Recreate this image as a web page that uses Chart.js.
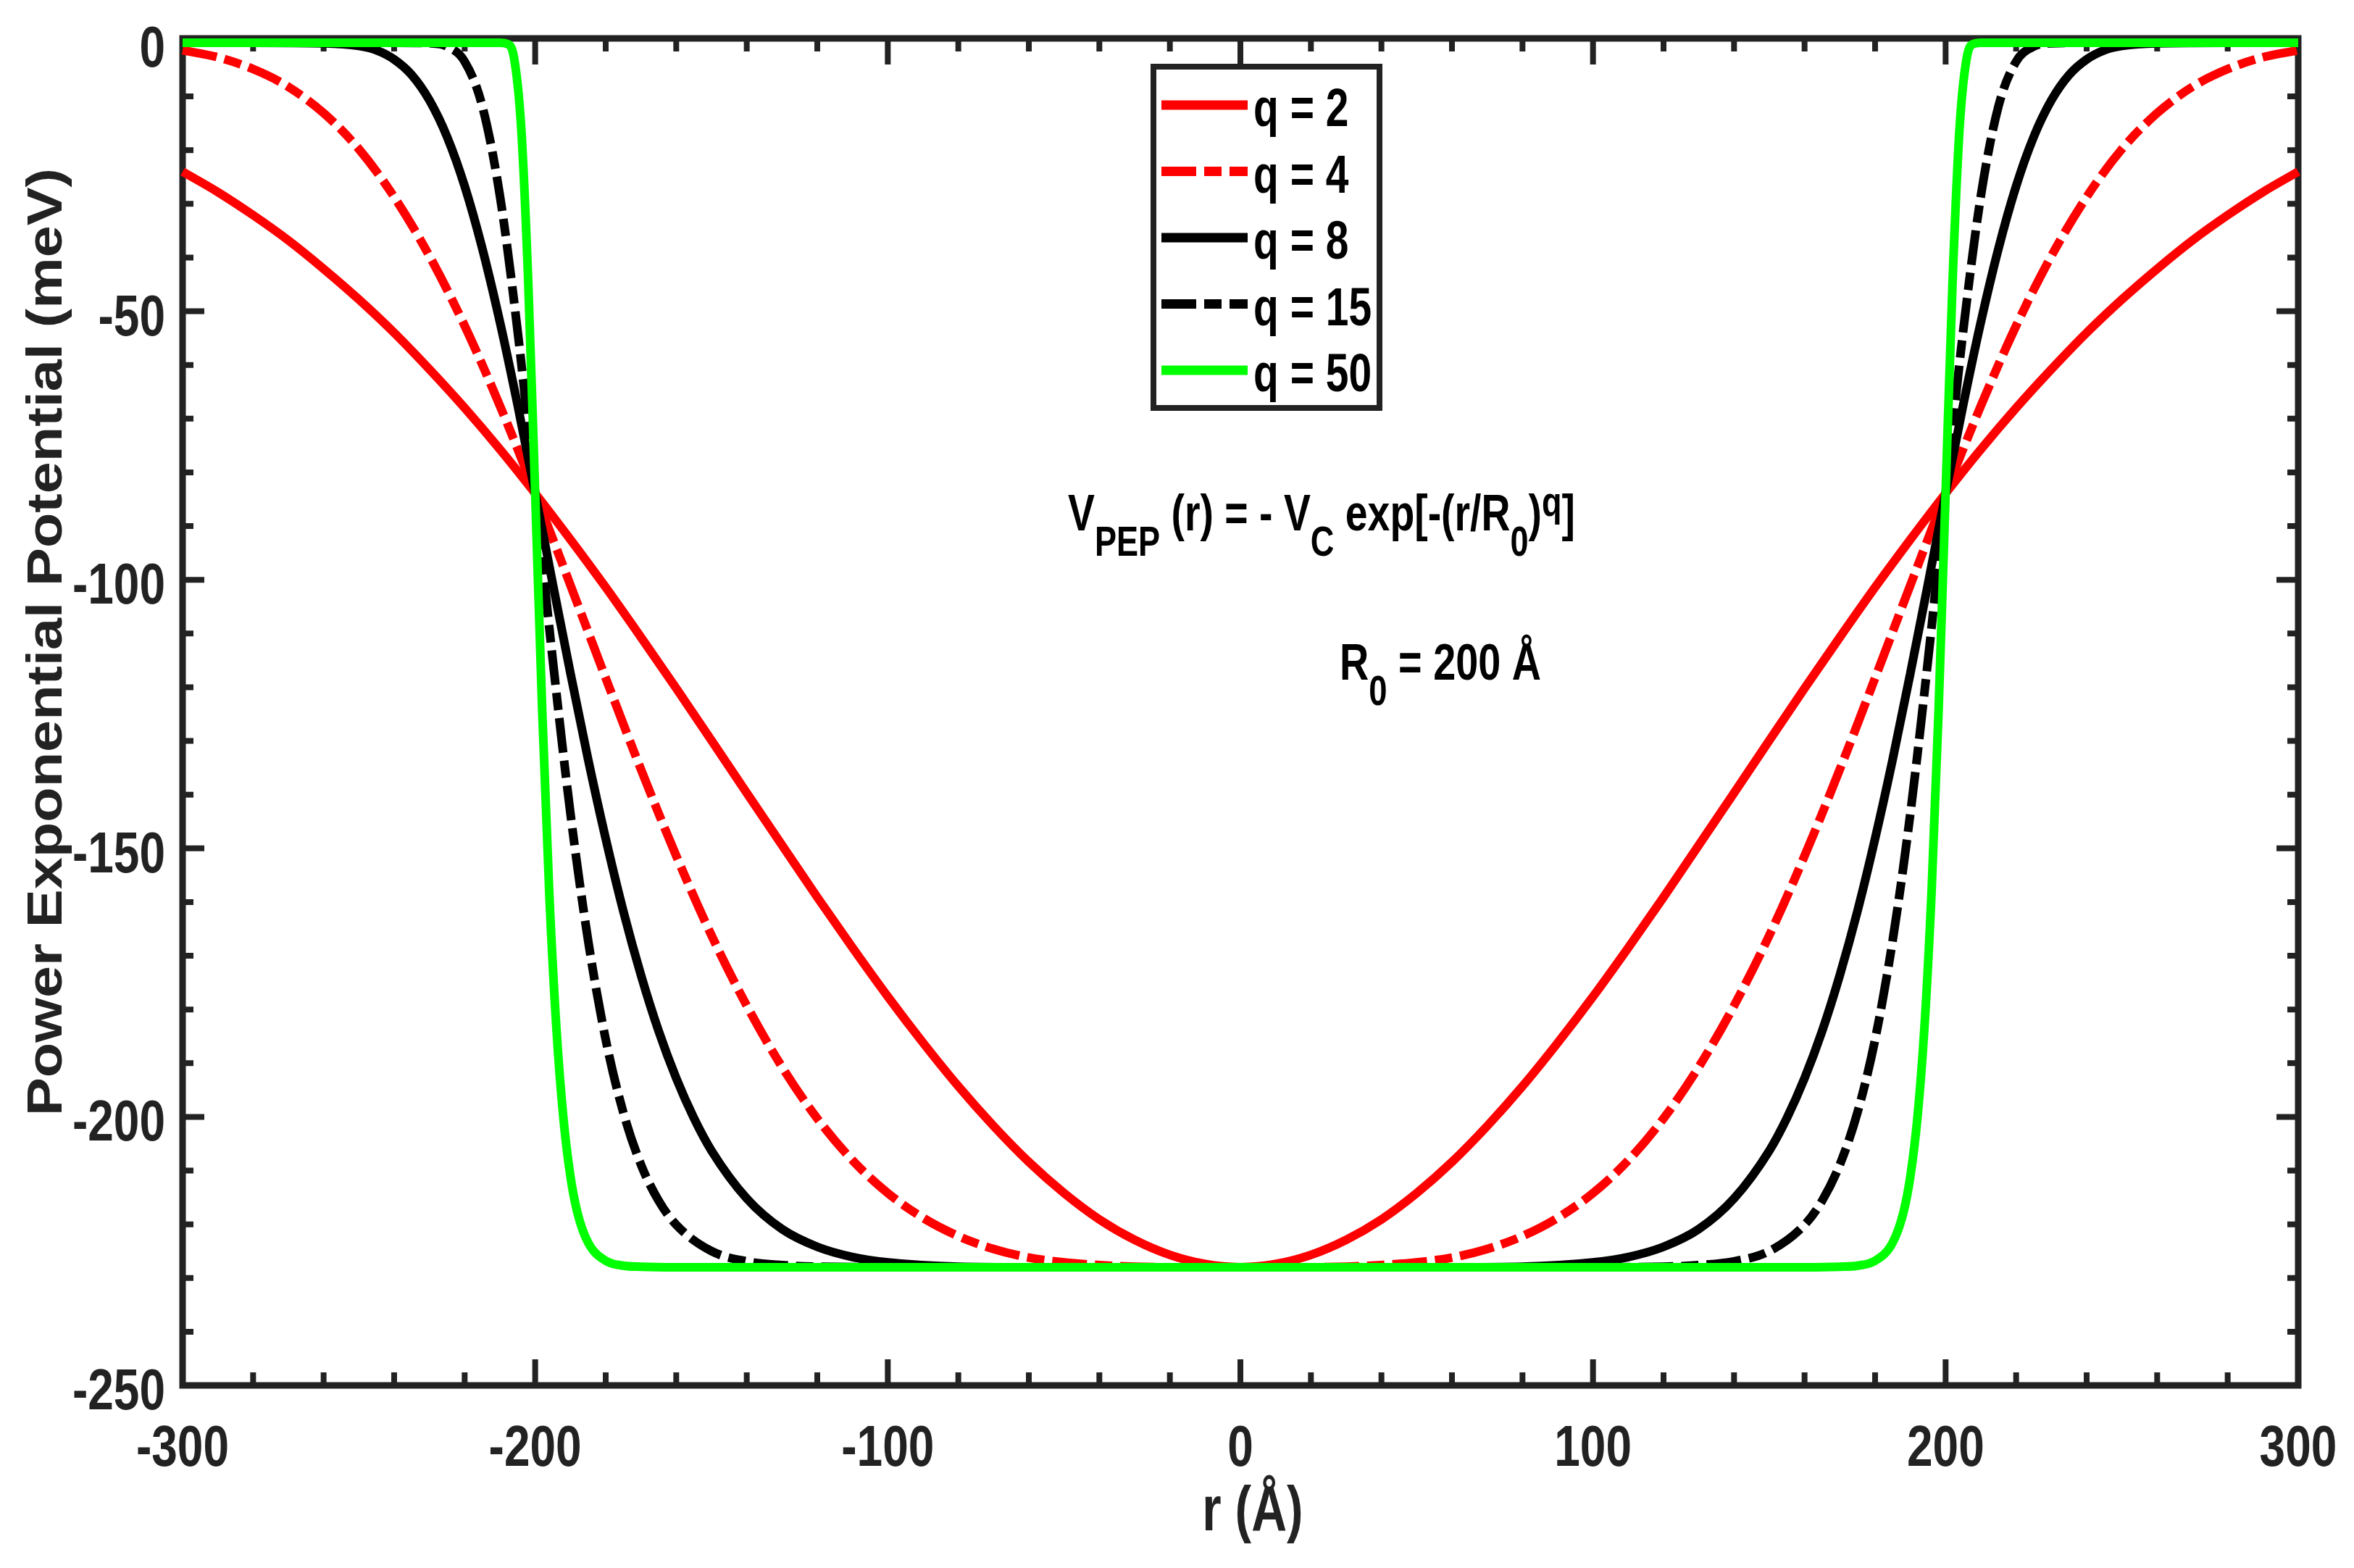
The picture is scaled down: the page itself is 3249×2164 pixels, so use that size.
<!DOCTYPE html>
<html>
<head>
  <meta charset="utf-8">
  <title>Power Exponential Potential</title>
  <script src="https://cdn.jsdelivr.net/npm/chart.js@4.4.1/dist/chart.umd.min.js"></script>
  <style>
    html, body { margin: 0; padding: 0; background: #fff; }
    #wrap { width: 3249px; height: 2164px; }
  </style>
</head>
<body>
<div id="wrap"><canvas id="pep" width="3249" height="2164"></canvas></div>
<script>
// tick labels
const xTicks = [-300, -200, -100, 0, 100, 200, 300];
const yTicks = [-250, -200, -150, -100, -50, 0];

// q = 2 and q = 4 read every 10 A
const rGrid = [-300,-290,-280,-270,-260,-250,-240,-230,-220,-210,-200,-190,-180,-170,-160,-150,-140,-130,-120,-110,-100,-90,-80,-70,-60,-50,-40,-30,-20,-10,
  0,10,20,30,40,50,60,70,80,90,100,110,120,130,140,150,160,170,180,190,200,210,220,230,240,250,260,270,280,290,300];
const vQ2 = [-24.0,-27.8,-32.1,-36.8,-42.1,-47.8,-54.0,-60.8,-68.0,-75.7,-83.9,-92.5,-101.4,-110.7,-120.2,-129.9,-139.7,-149.4,-159.1,-168.5,-177.6,-186.2,-194.3,-201.7,-208.4,-214.2,-219.1,-222.9,-225.7,-227.4,
  -228.0,-227.4,-225.7,-222.9,-219.1,-214.2,-208.4,-201.7,-194.3,-186.2,-177.6,-168.5,-159.1,-149.4,-139.7,-129.9,-120.2,-110.7,-101.4,-92.5,-83.9,-75.7,-68.0,-60.8,-54.0,-47.8,-42.1,-36.8,-32.1,-27.8,-24.0];
const vQ4 = [-1.4,-2.7,-4.9,-8.2,-13.1,-19.8,-28.7,-39.7,-52.7,-67.6,-83.9,-101.0,-118.3,-135.3,-151.4,-166.2,-179.3,-190.7,-200.3,-208.1,-214.2,-218.8,-222.2,-224.6,-226.2,-227.1,-227.6,-227.9,-228.0,-228.0,
  -228.0,-228.0,-228.0,-227.9,-227.6,-227.1,-226.2,-224.6,-222.2,-218.8,-214.2,-208.1,-200.3,-190.7,-179.3,-166.2,-151.4,-135.3,-118.3,-101.0,-83.9,-67.6,-52.7,-39.7,-28.7,-19.8,-13.1,-8.2,-4.9,-2.7,-1.4];

// q = 8
const rQ8 = [-300,-280,-260,-250,-245,-240,-235,-230,-225,-220,-215,-210,-205,-200,-195,-190,-185,-180,-175,-170,-165,-160,-155,-150,-140,-130,-120,-110,-100,-80,-60,-40,-20,
  0,20,40,60,80,100,110,120,130,140,150,155,160,165,170,175,180,185,190,195,200,205,210,215,220,225,230,235,240,245,250,260,280,300];
const vQ8 = [0,0,-0.1,-0.6,-1.4,-3.1,-6.0,-10.7,-17.5,-26.7,-38.3,-52.0,-67.4,-83.9,-100.8,-117.4,-133.4,-148.2,-161.7,-173.6,-184.0,-192.8,-200.2,-206.3,-215.2,-220.9,-224.2,-226.1,-227.1,-227.9,-228.0,-228.0,-228.0,
  -228.0,-228.0,-228.0,-228.0,-227.9,-227.1,-226.1,-224.2,-220.9,-215.2,-206.3,-200.2,-192.8,-184.0,-173.6,-161.7,-148.2,-133.4,-117.4,-100.8,-83.9,-67.4,-52.0,-38.3,-26.7,-17.5,-10.7,-6.0,-3.1,-1.4,-0.6,-0.1,0,0];

// q = 15
const rQ15 = [-300,-270,-240,-230,-225,-220,-215,-210,-205,-200,-195,-190,-185,-180,-175,-170,-165,-160,-150,-140,-130,-120,-100,-50,
  0,50,100,120,130,140,150,160,165,170,175,180,185,190,195,200,205,210,215,220,225,230,240,270,300];
const vQ15 = [0,0,0,-0.1,-0.7,-3.5,-11.8,-28.5,-53.6,-83.9,-115.0,-143.5,-167.1,-185.6,-199.2,-208.9,-215.6,-220.1,-225.0,-226.9,-227.6,-227.9,-228.0,-228.0,
  -228.0,-228.0,-228.0,-227.9,-227.6,-226.9,-225.0,-220.1,-215.6,-208.9,-199.2,-185.6,-167.1,-143.5,-115.0,-83.9,-53.6,-28.5,-11.8,-3.5,-0.7,-0.1,0,0,0];

// q = 50
const rQ50 = [-300,-250,-210,-208,-206,-204,-202,-200,-198,-196,-194,-192,-190,-188,-185,-180,-175,-170,-160,-100,
  0,100,160,170,175,180,185,188,190,192,194,196,198,200,202,204,206,208,210,250,300];
const vQ50 = [0,0,0,-0.2,-2.8,-15.5,-44.0,-83.9,-124.5,-158.4,-183.3,-200.2,-211.1,-217.9,-223.4,-226.8,-227.7,-227.9,-228.0,-228.0,
  -228.0,-228.0,-228.0,-227.9,-227.7,-226.8,-223.4,-217.9,-211.1,-200.2,-183.3,-158.4,-124.5,-83.9,-44.0,-15.5,-2.8,-0.2,0,0,0];

const FONT = '"Liberation Sans", Arial, sans-serif';
const AXIS = '#222222';
const DASHDOT = [48, 11, 24, 11];

function pts(rs, vs) {
  return rs.map((r, i) => ({ x: r, y: vs[i] }));
}

function series(label, rs, vs, color, dash, order) {
  return {
    label: label,
    data: pts(rs, vs),
    borderColor: color,
    backgroundColor: color,
    borderWidth: 12,
    borderDash: dash,
    borderCapStyle: 'butt',
    borderJoinStyle: 'round',
    pointRadius: 0,
    cubicInterpolationMode: 'monotone',
    fill: false,
    clip: 14,
    order: order
  };
}

// the picture's lettering is narrow, so squeeze it sideways
function squeezed(ctx, text, x, y, size, sx, align) {
  ctx.save();
  ctx.font = 'bold ' + size + 'px ' + FONT;
  ctx.translate(x, y);
  ctx.scale(sx, 1);
  ctx.textAlign = align;
  ctx.textBaseline = 'alphabetic';
  ctx.fillText(text, 0, 0);
  ctx.restore();
}

// text with sub/superscripts fitted to the width it has in the picture
function drawRich(ctx, parts, x, y, width) {
  let natural = 0;
  parts.forEach(p => {
    ctx.font = 'bold ' + p.size + 'px ' + FONT;
    natural += ctx.measureText(p.text).width;
  });
  ctx.save();
  ctx.translate(x, y);
  ctx.scale(width / natural, 1);
  ctx.textAlign = 'left';
  ctx.textBaseline = 'alphabetic';
  let cx = 0;
  parts.forEach(p => {
    ctx.font = 'bold ' + p.size + 'px ' + FONT;
    ctx.fillText(p.text, cx, p.dy);
    cx += ctx.measureText(p.text).width;
  });
  ctx.restore();
}

// box round the plot, inward ticks on all four sides, tick labels
const framePlugin = {
  id: 'frame',
  beforeDatasetsDraw(chart) {
    const { ctx, chartArea: a, scales: { x, y } } = chart;
    const top = a.top - 6;
    ctx.save();
    ctx.strokeStyle = AXIS;
    ctx.lineWidth = 9;
    ctx.lineCap = 'square';
    ctx.strokeRect(a.left, top, a.right - a.left, a.bottom - top);

    ctx.lineWidth = 8;
    ctx.lineCap = 'butt';
    ctx.beginPath();
    for (let v = -300; v <= 300; v += 20) {
      const px = x.getPixelForValue(v);
      const len = xTicks.includes(v) ? 36 : 18;
      ctx.moveTo(px, a.bottom); ctx.lineTo(px, a.bottom - len);
      ctx.moveTo(px, top); ctx.lineTo(px, top + len);
    }
    for (let v = -250; v <= 0; v += 10) {
      const py = y.getPixelForValue(v);
      const len = yTicks.includes(v) ? 30 : 15;
      ctx.moveTo(a.left, py); ctx.lineTo(a.left + len, py);
      ctx.moveTo(a.right, py); ctx.lineTo(a.right - len, py);
    }
    ctx.stroke();

    ctx.fillStyle = AXIS;
    x.ticks.forEach(t => {
      squeezed(ctx, String(t.value), x.getPixelForValue(t.value), a.bottom + 111, 80, 0.8, 'center');
    });
    y.ticks.forEach(t => {
      squeezed(ctx, String(t.value), a.left - 24, y.getPixelForValue(t.value) + 33, 80, 0.8, 'right');
    });
    squeezed(ctx, 'r (Å)', (a.left + a.right) / 2 + 17, a.bottom + 200, 88, 0.77, 'center');
    ctx.restore();
  }
};

// legend box, formula and y title
const notesPlugin = {
  id: 'notes',
  afterDatasetsDraw(chart) {
    const ctx = chart.ctx;
    ctx.save();

    // legend
    ctx.fillStyle = '#fff';
    ctx.fillRect(1592, 92, 312, 471);
    ctx.strokeStyle = AXIS;
    ctx.lineWidth = 8;
    ctx.strokeRect(1592, 92, 312, 471);
    chart.data.datasets.forEach((ds, i) => {
      const cy = 145 + i * 91.5;
      ctx.beginPath();
      ctx.setLineDash(ds.borderDash || []);
      ctx.strokeStyle = ds.borderColor;
      ctx.lineWidth = 13;
      ctx.lineCap = 'butt';
      ctx.moveTo(1603, cy);
      ctx.lineTo(1722, cy);
      ctx.stroke();
      ctx.setLineDash([]);
      ctx.fillStyle = '#000';
      squeezed(ctx, ds.label, 1730, cy + 29, 74, 0.77, 'left');
    });

    // formula
    ctx.fillStyle = '#000';
    drawRich(ctx, [
      { text: 'V', size: 70, dy: 0 },
      { text: 'PEP', size: 57, dy: 35 },
      { text: ' (r) = - V', size: 70, dy: 0 },
      { text: 'C', size: 57, dy: 35 },
      { text: ' exp[-(r/R', size: 70, dy: 0 },
      { text: '0', size: 57, dy: 35 },
      { text: ')', size: 70, dy: 0 },
      { text: 'q', size: 57, dy: -20 },
      { text: ']', size: 70, dy: 0 }
    ], 1474, 732, 700);
    drawRich(ctx, [
      { text: 'R', size: 70, dy: 0 },
      { text: '0', size: 57, dy: 35 },
      { text: ' = 200 Å', size: 70, dy: 0 }
    ], 1849, 938, 278);
    ctx.restore();
  },
  afterDraw(chart) {
    const ctx = chart.ctx;
    const text = 'Power Exponential Potential (meV)';
    ctx.save();
    ctx.fillStyle = AXIS;
    ctx.font = 'bold 69px ' + FONT;
    const w = ctx.measureText(text).width;
    ctx.translate(85, 886);
    ctx.rotate(-Math.PI / 2);
    ctx.scale(1308 / w, 1);
    ctx.textAlign = 'center';
    ctx.textBaseline = 'alphabetic';
    ctx.fillText(text, 0, 0);
    ctx.restore();
  }
};

new Chart(document.getElementById('pep'), {
  type: 'line',
  data: {
    datasets: [
      series('q = 2', rGrid, vQ2, '#ff0000', [], 5),
      series('q = 4', rGrid, vQ4, '#ff0000', DASHDOT, 4),
      series('q = 8', rQ8, vQ8, '#000000', [], 3),
      series('q = 15', rQ15, vQ15, '#000000', DASHDOT, 2),
      series('q = 50', rQ50, vQ50, '#00ff00', [], 1)
    ]
  },
  options: {
    responsive: false,
    devicePixelRatio: 1,
    animation: false,
    layout: { padding: { left: 0, right: 77, top: 59, bottom: 0 } },
    plugins: {
      legend: { display: false },
      tooltip: { enabled: false }
    },
    scales: {
      x: {
        type: 'linear',
        min: -300,
        max: 300,
        afterBuildTicks: s => { s.ticks = xTicks.map(v => ({ value: v })); },
        afterFit: s => { s.height = 2164 - 1912; },
        grid: { display: false, drawTicks: false },
        border: { display: false },
        ticks: { display: false },
        title: { display: false, text: 'r (Å)' }
      },
      y: {
        type: 'linear',
        min: -250,
        max: 0,
        afterBuildTicks: s => { s.ticks = yTicks.map(v => ({ value: v })); },
        afterFit: s => { s.width = 252; },
        grid: { display: false, drawTicks: false },
        border: { display: false },
        ticks: { display: false },
        title: { display: false, text: 'Power Exponential Potential (meV)' }
      }
    }
  },
  plugins: [framePlugin, notesPlugin]
});
</script>
</body>
</html>
